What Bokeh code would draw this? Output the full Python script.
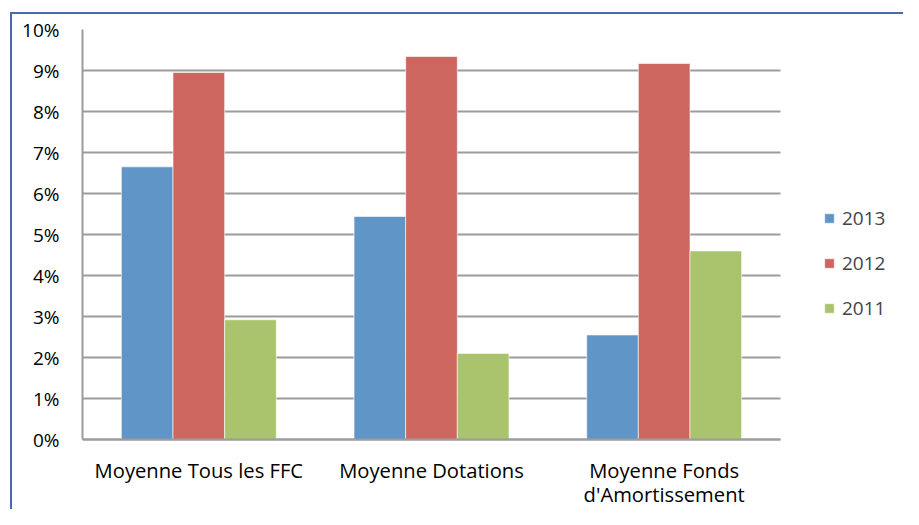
from bokeh.plotting import figure
from bokeh.models import Range1d, NumeralTickFormatter, Legend, LegendItem, FixedTicker
from bokeh.embed import file_html
from bokeh.resources import INLINE

categories = ["Moyenne Tous les FFC", "Moyenne Dotations", "Moyenne Fonds\nd'Amortissement"]
series_names = ["2013", "2012", "2011"]
v2013 = [0.0665, 0.0544, 0.0255]
v2012 = [0.0895, 0.0934, 0.0917]
v2011 = [0.0292, 0.0210, 0.0460]
colors = ["#6096C7", "#CC665E", "#AAC46D"]
y_ticks = [0, 0.01, 0.02, 0.03, 0.04, 0.05, 0.06, 0.07, 0.08, 0.09, 0.10]

FONT = "Open Sans"
W, H = 903, 509
LEFT, TOP = 82, 29
PLOT_W, PLOT_H = 698, 410      # pixel size of the value area (0%..10%, 3 categories)
frame_w = W - LEFT
frame_h = H - TOP
unit = PLOT_W / len(categories)
x_end = 0.5 + frame_w / unit
y_top = max(y_ticks)
y_start = -(frame_h - PLOT_H) * y_top / PLOT_H

xpos = list(range(1, len(categories) + 1))
bw = 0.222
vals = {"2013": v2013, "2012": v2012, "2011": v2011}

p = figure(x_range=Range1d(0.5, x_end), y_range=Range1d(y_start, y_top),
           width=W, height=H, output_backend="svg", toolbar_location=None,
           min_border_left=LEFT, min_border_top=TOP, min_border_bottom=0, min_border_right=0)
p.outline_line_color = None
p.background_fill_color = "white"
p.border_fill_alpha = 0
p.styles = {
    "background-color": "white",
    "background-image": "linear-gradient(#4A6AB0,#4A6AB0), linear-gradient(#4A6AB0,#4A6AB0)",
    "background-size": "100% 2px, 2px 100%",
    "background-position": "11px 12px, 10px 12px",
    "background-repeat": "no-repeat",
}

renderers = []
for i, (name, col) in enumerate(zip(series_names, colors)):
    xs = [x + (i - 1) * bw for x in xpos]
    r = p.vbar(x=xs, top=vals[name], width=bw,
               fill_color=col, line_color="white", line_alpha=0.6, line_width=1)
    renderers.append(r)

p.xgrid.grid_line_color = None
p.ygrid.grid_line_color = "#9C9C9C"
p.ygrid.grid_line_width = 2
p.ygrid.cross_bounds = (0.5, len(categories) + 0.5)
p.ygrid.ticker = FixedTicker(ticks=y_ticks)
p.yaxis.ticker = FixedTicker(ticks=y_ticks)
p.yaxis.formatter = NumeralTickFormatter(format="0%")
p.yaxis.bounds = (0, y_top)
p.xaxis.ticker = FixedTicker(ticks=xpos)
p.xaxis.major_label_overrides = {x: c for x, c in zip(xpos, categories)}
p.xaxis.bounds = (0.5, len(categories) + 0.5)
p.xaxis.fixed_location = 0

for ax in (p.xaxis, p.yaxis):
    ax.axis_line_color = "#9C9C9C"
    ax.axis_line_width = 2
    ax.major_tick_line_color = None
    ax.minor_tick_line_color = None
    ax.major_tick_out = 0
    ax.major_tick_in = 0
    ax.minor_tick_out = 0
    ax.minor_tick_in = 0
    ax.major_label_text_font = FONT
    ax.major_label_text_color = "black"
p.yaxis.major_label_text_font_size = "19px"
p.xaxis.major_label_text_font_size = "20.2px"
p.xaxis.major_label_text_line_height = 0.87
p.yaxis.major_label_standoff = 23
p.xaxis.major_label_standoff = 16

legend = Legend(items=[LegendItem(label=n, renderers=[r]) for n, r in zip(series_names, renderers)],
                location=(741, 188), orientation="vertical")
legend.glyph_width = 12
legend.glyph_height = 12
legend.label_text_font = FONT
legend.label_text_font_size = "19px"
legend.label_standoff = 7
legend.spacing = 19
legend.padding = 0
legend.margin = 0
legend.border_line_color = None
legend.background_fill_alpha = 0
p.add_layout(legend, "center")

open("out.html", "w").write(file_html(p, INLINE))
